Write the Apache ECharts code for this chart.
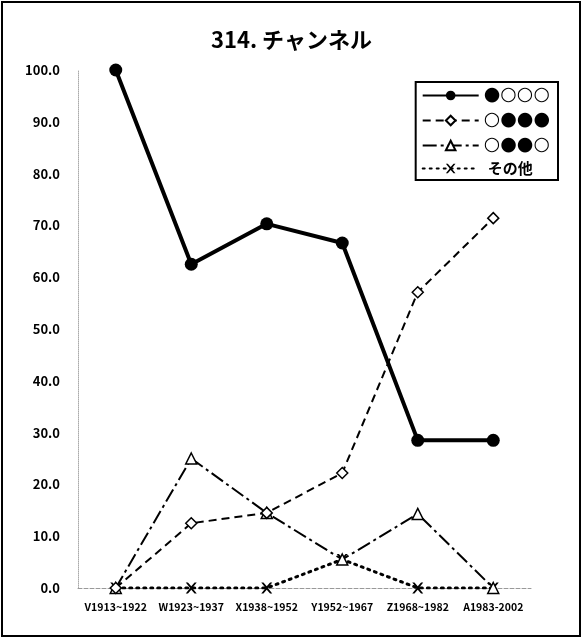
<!DOCTYPE html>
<html>
<head>
<meta charset="utf-8">
<script src="https://cdn.jsdelivr.net/npm/echarts@6/dist/echarts.min.js"></script>
<style>
  html, body { margin: 0; padding: 0; background: #fff; }
  #main { width: 583px; height: 640px; }
</style>
</head>
<body>
<div id="main"></div>
<script>
// データ
var categories = ['V1913~1922', 'W1923~1937', 'X1938~1952', 'Y1952~1967', 'Z1968~1982', 'A1983-2002'];
var seriesNames = ['●○○○', '○●●●', '○●●○', 'その他'];
var s1 = [100.0, 62.5, 70.3, 66.6, 28.5, 28.5];
var s2 = [0.0, 12.5, 14.5, 22.2, 57.1, 71.4];
var s3 = [0.0, 25.0, 14.5, 5.5, 14.3, 0.0];
var s4 = [0.0, 0.0, 0.0, 5.5, 0.0, 0.0];
var yTicks = [0, 10, 20, 30, 40, 50, 60, 70, 80, 90, 100];

var font = '"Noto Sans CJK JP", "Noto Sans", sans-serif';
var crossPath = 'path://M0,0L2,0L5,3.5L8,0L10,0L6,5L10,10L8,10L5,6.5L2,10L0,10L4,5Z';

var myChart = echarts.init(document.getElementById('main'));

var option = {
	backgroundColor: '#fff',
	animation: false,
	textStyle: { fontFamily: font },
	title: {
		text: '314. チャンネル',
		left: 'center',
		top: 24,
		textStyle: { fontSize: 22, fontWeight: 'bold', color: '#000', fontFamily: font }
	},
	//外枠
	graphic: [{
		type: 'rect',
		shape: { x: 2, y: 2, width: 578, height: 634 },
		style: { fill: 'none', stroke: '#000', lineWidth: 2 },
		silent: true
	}],
	legend: {
		orient: 'vertical',
		right: 25,
		top: 82,
		itemWidth: 56,
		itemHeight: 12,
		itemGap: 6,
		padding: [4, 8, 4, 6],
		borderColor: '#000',
		borderWidth: 2,
		backgroundColor: '#fff',
		formatter: function (name) {
			return name === 'その他' ? '{j|' + name + '}' : '{s|' + name + '}';
		},
		textStyle: {
			color: '#000',
			rich: {
				s: { fontSize: 19, fontFamily: '"DejaVu Sans", sans-serif', color: '#000', lineHeight: 20 },
				j: { fontSize: 15, fontWeight: 'bold', fontFamily: font, color: '#000', lineHeight: 20, padding: [0, 0, 0, 4] }
			}
		},
		data: seriesNames
	},
	grid: {
		left: 78,
		right: 52,
		top: 70,
		bottom: 52,
		containLabel: false
	},
	xAxis: {
		type: 'category',
		boundaryGap: true,
		data: categories,
		axisLine: { lineStyle: { color: '#999', type: 'dashed', width: 1 } },
		axisTick: { show: false },
		axisLabel: { color: '#000', fontSize: 10.5, fontWeight: 'bold', margin: 14, interval: 0 }
	},
	yAxis: {
		type: 'value',
		min: 0,
		max: 100,
		interval: 10,
		axisLine: { show: true, lineStyle: { color: '#aaa', type: 'dotted', width: 1 } },
		axisTick: { show: false },
		splitLine: { show: false },
		axisLabel: {
			color: '#000', fontSize: 13, fontWeight: 'bold', margin: 18,
			formatter: function (v) { return v.toFixed(1); }
		}
	},
	series: [{
		name: seriesNames[0],
		type: 'line',
		data: s1,
		symbol: 'circle',
		symbolSize: 13,
		itemStyle: { color: '#000' },
		lineStyle: { color: '#000', width: 4 },
		z: 5
	}, {
		name: seriesNames[1],
		type: 'line',
		data: s2,
		symbol: 'diamond',
		symbolSize: 11,
		itemStyle: { color: '#fff', borderColor: '#000', borderWidth: 1.5 },
		lineStyle: { color: '#000', width: 2, type: [8, 5] },
		z: 4
	}, {
		name: seriesNames[2],
		type: 'line',
		data: s3,
		symbol: 'triangle',
		symbolSize: 11,
		itemStyle: { color: '#fff', borderColor: '#000', borderWidth: 1.5 },
		lineStyle: { color: '#000', width: 2, type: [14, 4, 3, 4] },
		z: 3
	}, {
		name: seriesNames[3],
		type: 'line',
		data: s4,
		symbol: crossPath,
		symbolSize: 11,
		itemStyle: { color: '#000' },
		lineStyle: { color: '#000', width: 3, type: [2, 5], cap: 'round' },
		z: 2
	}]
};
myChart.setOption(option);
</script>
</body>
</html>
